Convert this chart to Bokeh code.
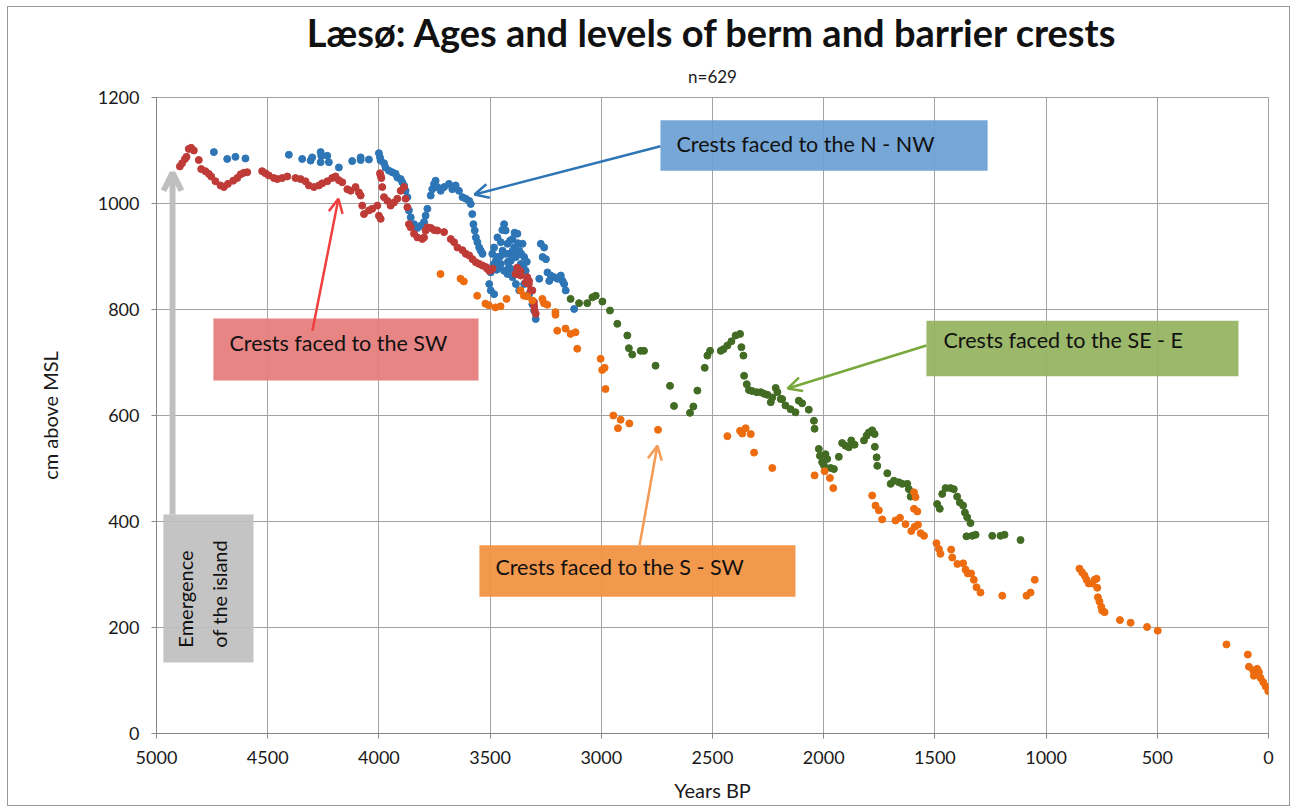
from bokeh.plotting import figure
from bokeh.models import Range1d, Label, Arrow, OpenHead, BoxAnnotation, FixedTicker, Title
from bokeh.embed import file_html
from bokeh.resources import INLINE

FONT = "Lato"

# ---------------- data (years BP, cm above MSL) ----------------
nnw_years = [4742, 4682, 4645, 4600, 4405, 4345, 4307, 4300, 4262, 4259,
             4232, 4225, 4262, 4180, 4120, 4082, 4082, 4045, 4000, 3995,
             3992, 3977, 3970, 3955, 3940, 3925, 3917, 3902, 3895, 3887,
             3880, 3872, 3865, 3857, 3842, 3827, 3812, 3797, 3790, 3782,
             3767, 3760, 3752, 3745, 3737, 3722, 3707, 3685, 3670, 3655,
             3640, 3624, 3609, 3594, 3587, 3580, 3575, 3569, 3564, 3557,
             3549, 3542, 3534, 3482, 3467, 3452, 3444, 3437, 3430, 3422,
             3414, 3407, 3399, 3392, 3384, 3377, 3369, 3362, 3354, 3347,
             3340, 3474, 3459, 3437, 3422, 3399, 3384, 3369, 3347, 3467,
             3452, 3497, 3504, 3497, 3482, 3310, 3302, 3295, 3325, 3272,
             3257, 3264, 3249, 3242, 3227, 3212, 3197, 3182, 3174, 3167,
             3160, 3122, 3279, 3234, 3430, 3415, 3395, 3455, 3410, 3390,
             3445, 3360, 3375, 3400, 3490, 3485, 3470, 3350, 3335, 3420]
nnw_cm = [1097, 1084, 1088, 1085, 1092, 1084, 1081, 1087, 1097, 1090,
          1090, 1078, 1078, 1068, 1080, 1087, 1082, 1083, 1095, 1087,
          1081, 1076, 1068, 1062, 1059, 1056, 1049, 1046, 1040, 1034,
          1024, 1012, 987, 974, 961, 954, 958, 965, 977, 990,
          1015, 1027, 1037, 1043, 1031, 1024, 1031, 1037, 1027, 1034,
          1024, 1012, 1009, 1005, 999, 980, 961, 949, 936, 927,
          917, 911, 905, 917, 936, 927, 911, 961, 949, 924,
          905, 892, 933, 917, 899, 943, 911, 886, 924, 899,
          873, 892, 880, 873, 867, 861, 848, 836, 848, 899,
          886, 870, 848, 836, 829, 810, 798, 782, 829, 924,
          917, 899, 895, 870, 864, 861, 858, 864, 854, 848,
          836, 801, 858, 854, 905, 880, 875, 900, 930, 945,
          950, 905, 925, 910, 905, 885, 875, 880, 890, 890]

sw_years = [4895, 4885, 4872, 4865, 4855, 4844, 4832, 4810, 4799, 4780,
            4765, 4754, 4735, 4712, 4697, 4679, 4655, 4637, 4622, 4607,
            4592, 4525, 4510, 4495, 4472, 4457, 4435, 4412, 4375, 4352,
            4330, 4315, 4292, 4270, 4255, 4232, 4210, 4195, 4180, 4165,
            4142, 4127, 4105, 4090, 4082, 4075, 4067, 4045, 4030, 4007,
            4000, 3992, 3995, 3989, 3992, 3985, 3977, 3962, 3947, 3932,
            3917, 3902, 3887, 3880, 3872, 3865, 3857, 3842, 3827, 3805,
            3797, 3790, 3782, 3767, 3752, 3737, 3707, 3677, 3662, 3647,
            3624, 3609, 3594, 3579, 3564, 3549, 3534, 3519, 3513, 3504,
            3498, 3489, 3378, 3363, 3333, 3326, 3310, 3303, 3300, 3295,
            3377, 3362, 3340, 3325, 3317, 3302, 3386]
sw_cm = [1070, 1076, 1084, 1088, 1103, 1105, 1100, 1082, 1065, 1061,
         1056, 1051, 1042, 1034, 1031, 1037, 1043, 1048, 1055, 1058,
         1059, 1061, 1057, 1053, 1048, 1046, 1048, 1051, 1048, 1046,
         1042, 1034, 1031, 1034, 1038, 1042, 1048, 1051, 1044, 1040,
         1027, 1024, 1031, 1021, 1015, 996, 980, 987, 990, 996,
         977, 971, 1057, 1048, 1053, 1031, 1012, 1005, 996, 1002,
         1009, 1024, 1031, 1009, 993, 961, 955, 943, 936, 933,
         936, 949, 955, 954, 950, 949, 946, 933, 927, 917,
         912, 905, 902, 895, 889, 886, 883, 880, 877, 873,
         874, 877, 879, 872, 861, 848, 836, 814, 799, 792,
         867, 864, 851, 854, 836, 807, 867]

see_years = [3138, 3100, 3063, 3040, 3025, 2995, 2961, 2928, 2883, 2876,
             2861, 2823, 2808, 2756, 2691, 2673, 2601, 2586, 2568, 2535,
             2523, 2511, 2463, 2451, 2433, 2415, 2396, 2376, 2370, 2361,
             2358, 2346, 2336, 2321, 2301, 2283, 2268, 2253, 2238, 2231,
             2216, 2208, 2193, 2187, 2172, 2149, 2127, 2112, 2097, 2067,
             2044, 2041, 2022, 2017, 2007, 1999, 1992, 1984, 1969, 1954,
             1932, 1917, 1902, 1887, 1876, 1861, 1819, 1807, 1797, 1782,
             1771, 1770, 1762, 1759, 1714, 1699, 1684, 1662, 1647, 1624,
             1617, 1609, 1490, 1478, 1467, 1452, 1430, 1415, 1400, 1388,
             1373, 1365, 1355, 1340, 1358, 1332, 1317, 1242, 1205, 1187,
             1115]
see_cm = [820, 812, 812, 823, 826, 815, 798, 773, 751, 727,
          715, 722, 722, 694, 656, 618, 605, 617, 647, 690,
          713, 722, 722, 725, 732, 740, 751, 754, 729, 713,
          675, 659, 648, 646, 644, 644, 641, 639, 625, 634,
          652, 644, 631, 631, 619, 612, 606, 628, 623, 611,
          590, 575, 537, 524, 512, 506, 527, 518, 501, 499,
          522, 548, 543, 540, 553, 545, 553, 562, 568, 572,
          565, 541, 521, 505, 491, 471, 477, 474, 471, 471,
          461, 447, 433, 424, 452, 463, 463, 461, 447, 436,
          430, 417, 408, 397, 372, 373, 375, 373, 373, 375,
          365]

ssw_years = [3723, 3633, 3618, 3558, 3521, 3506, 3476, 3453, 3426, 3363,
             3348, 3333, 3310, 3265, 3258, 3243, 3206, 3206, 3198, 3161,
             3138, 3116, 3108, 3003, 2996, 2985, 2981, 2946, 2925, 2913,
             2874, 2745, 2433, 2376, 2366, 2351, 2328, 2313, 2231, 2041,
             1996, 1972, 1957, 1782, 1767, 1752, 1737, 1677, 1657, 1632,
             1606, 1594, 1594, 1591, 1587, 1579, 1576, 1564, 1549, 1493,
             1482, 1475, 1427, 1422, 1399, 1373, 1362, 1352, 1337, 1325,
             1313, 1295, 1197, 1088, 1070, 1051, 850, 838, 827, 818,
             808, 793, 782, 773, 770, 767, 760, 752, 748, 737,
             668, 620, 546, 498, 189, 93, 88, 69, 66, 51,
             43, 36, 24, 13, 1]
ssw_cm = [867, 858, 853, 826, 811, 808, 804, 806, 820, 836,
          826, 825, 817, 820, 812, 809, 795, 790, 760, 764,
          754, 757, 726, 707, 686, 690, 650, 600, 576, 592,
          585, 573, 561, 571, 566, 576, 565, 530, 501, 487,
          495, 482, 463, 449, 430, 421, 404, 402, 407, 395,
          382, 455, 424, 390, 446, 419, 394, 378, 373, 359,
          348, 339, 347, 332, 320, 321, 309, 302, 302, 290,
          276, 266, 260, 260, 266, 290, 311, 304, 298, 290,
          283, 283, 290, 292, 275, 257, 249, 239, 232, 229,
          214, 209, 201, 194, 168, 149, 126, 119, 109, 122,
          116, 105, 97, 89, 80]

x_ticks = [5000, 4500, 4000, 3500, 3000, 2500, 2000, 1500, 1000, 500, 0]
y_ticks = [0, 200, 400, 600, 800, 1000, 1200]

title_text = "Læsø: Ages and levels of berm and barrier crests"
subtitle_text = "n=629"

# ---------------- figure ----------------
p = figure(width=1283, height=800, output_backend="svg", toolbar_location=None,
           x_range=Range1d(5000, 0), y_range=Range1d(0, 1200), title=None,
           min_border_left=148, min_border_right=23, min_border_bottom=74,
           min_border_top=90, background_fill_color="white",
           border_fill_color="white")
p.styles = {"border": "1px solid #9a9a9a", "margin-left": "7px", "margin-top": "6px"}

# subtitle first (closest to the frame), then main title above it
p.add_layout(Title(text=subtitle_text, align="center", text_font=FONT,
                   text_font_size="17px", text_font_style="normal",
                   text_color="#1a1a1a", standoff=21), "above")
p.add_layout(Title(text=title_text, align="center", text_font=FONT,
                   text_font_size="38px", text_font_style="bold",
                   text_color="#111111", standoff=-3), "above")

GRID = "#a3a3a3"
p.outline_line_color = GRID
p.xgrid.grid_line_color = GRID
p.ygrid.grid_line_color = GRID
p.xaxis.ticker = FixedTicker(ticks=x_ticks)
p.yaxis.ticker = FixedTicker(ticks=y_ticks)
for ax in (p.xaxis, p.yaxis):
    ax.axis_line_color = "#868686"
    ax.major_tick_line_color = "#868686"
    ax.major_tick_out = 5
    ax.major_tick_in = 0
    ax.minor_tick_line_color = None
    ax.major_label_text_font = FONT
    ax.major_label_text_font_size = "18px"
    ax.major_label_text_color = "#1a1a1a"
    ax.axis_label_text_font = FONT
    ax.axis_label_text_font_size = "20px"
    ax.axis_label_text_font_style = "normal"
    ax.axis_label_text_color = "#1a1a1a"
p.xaxis.axis_label = "Years BP"
p.yaxis.axis_label = "cm above MSL"
p.xaxis.major_label_standoff = 12
p.yaxis.major_label_standoff = 12
p.xaxis.axis_label_standoff = 11
p.yaxis.axis_label_standoff = 33

# ---------------- annotation boxes ----------------
boxes = [
    (2734, 1263, 1157, 1062, "#6a9fd2"),   # N - NW
    (4744, 3552, 783, 666, "#e57b7b"),     # SW
    (1538, 135, 779, 674, "#93b25e"),      # SE - E
    (3548, 2127, 355, 258, "#f2903e"),     # S - SW
    (4969, 4564, 413, 134, "#bfbfbf"),     # emergence
]
for l, r, t, b, c in boxes:
    p.add_layout(BoxAnnotation(left=l, right=r, top=t, bottom=b, fill_color=c,
                               fill_alpha=0.92, line_color=None, level="underlay"))

# ---------------- points ----------------
p.scatter(nnw_years, nnw_cm, size=7, color="#2e75b6")
p.scatter(sw_years, sw_cm, size=7, color="#bf3b37")
p.scatter(see_years, see_cm, size=7, color="#426b24")
p.scatter(ssw_years, ssw_cm, size=7, color="#ed6c0f")

# ---------------- arrows ----------------
arrows = [
    (2734, 1108, 3570, 1017, "#2e75b6", 2.5),
    (4299, 760, 4182, 1009, "#ef3f3f", 2.5),
    (1538, 732, 2162, 651, "#78a83c", 2.5),
    (2828, 355, 2748, 543, "#f59a55", 2.5),
]
for xs, ys, xe, ye, c, w in arrows:
    p.add_layout(Arrow(end=OpenHead(size=14, line_color=c, line_width=w),
                       x_start=xs, y_start=ys, x_end=xe, y_end=ye,
                       line_color=c, line_width=w))
p.add_layout(Arrow(end=OpenHead(size=18, line_color="#bfbfbf", line_width=6),
                   x_start=4928, y_start=413, x_end=4928, y_end=1058,
                   line_color="#bfbfbf", line_width=6))

# ---------------- texts ----------------
texts = [
    (2662, 1113, "Crests faced to the N - NW"),
    (4672, 736, "Crests faced to the SW"),
    (1461, 742, "Crests faced to the SE - E"),
    (3476, 315, "Crests faced to the S - SW"),
]
for x, y, t in texts:
    p.add_layout(Label(x=x, y=y, text=t, text_font=FONT, text_font_size="21.5px",
                       text_color="#111111", text_align="left", text_baseline="middle"))
p.add_layout(Label(x=4870, y=162, text="Emergence", angle=1.5708, text_font=FONT,
                   text_font_size="20px", text_color="#111111",
                   text_align="left", text_baseline="middle"))
p.add_layout(Label(x=4721, y=162, text="of the island", angle=1.5708, text_font=FONT,
                   text_font_size="20px", text_color="#111111",
                   text_align="left", text_baseline="middle"))

open("out.html", "w").write(file_html(p, INLINE))
